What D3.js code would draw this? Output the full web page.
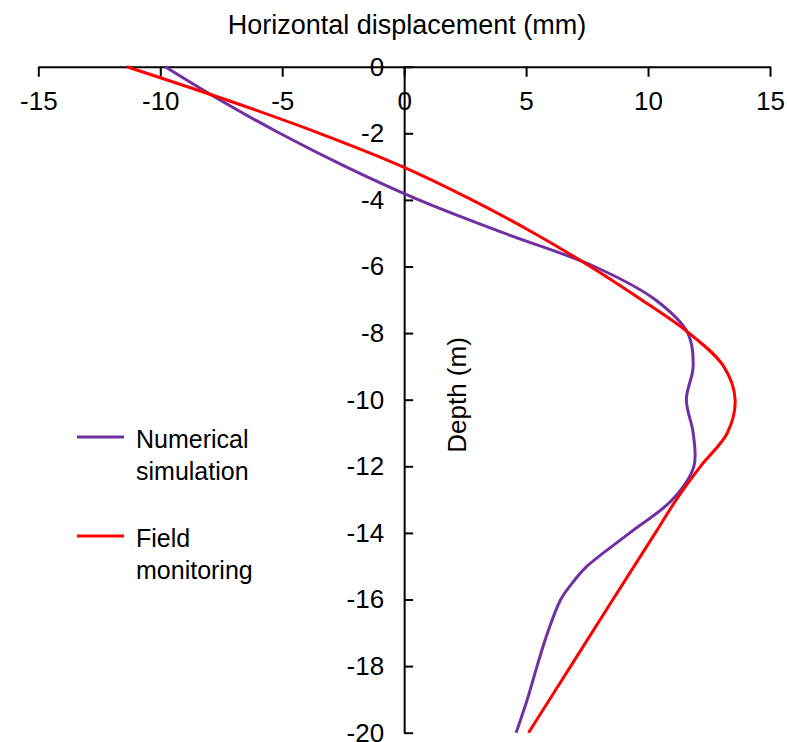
<!DOCTYPE html>
<html>
<head>
<meta charset="utf-8">
<script src="https://cdn.jsdelivr.net/npm/d3@7/dist/d3.min.js"></script>
<style>
  html, body { margin: 0; padding: 0; background: #fff; }
  svg { display: block; }
  text { font-family: Arial, "Liberation Sans", sans-serif; fill: #000; }
</style>
</head>
<body>
<script>
// Horizontal displacement profile of the retaining wall vs. depth
const xTicks = [-15, -10, -5, 0, 5, 10, 15];
const yTicks = [0, -2, -4, -6, -8, -10, -12, -14, -16, -18, -20];

// Numerical simulation: depth (m) and displacement (mm)
const simDepth = [0, -1, -2, -3, -4, -5, -6, -7, -8, -9, -10, -11, -12, -13, -14, -15, -15.5, -16, -17, -18, -19, -20];
const simDisp  = [-9.8, -7.55, -5.1, -2.4, 0.6, 4.1, 7.8, 10.3, 11.63, 11.85, 11.57, 11.85, 11.88, 11.0, 9.25, 7.5, 6.9, 6.42, 5.88, 5.45, 5.05, 4.59];

// Field monitoring: depth (m) and displacement (mm)
const fieldDepth = [0, -1, -2, -3, -4, -5, -6, -7, -8, -9, -10, -11, -12, -13, -14, -16, -18, -20];
const fieldDisp  = [-11.37, -7.27, -3.47, -0.07, 2.78, 5.33, 7.63, 9.73, 11.68, 13.1, 13.57, 13.25, 12.15, 11.16, 10.3, 8.56, 6.83, 5.1];

const seriesColors = ["#7030A0", "#FF0000"];

const W = 787, H = 742;
const svg = d3.select("body").append("svg").attr("width", W).attr("height", H);

const x = d3.scaleLinear().domain([-15, 15]).range([38.3, 770]);
const y = d3.scaleLinear().domain([0, -20]).range([66.7, 732.7]);

// Top (depth = 0) horizontal axis
const xAxis = d3.axisBottom(x).tickValues(xTicks).tickFormat(d => String(d))
  .tickSizeInner(10).tickSizeOuter(0).tickPadding(14.8);
const gx = svg.append("g").attr("transform", `translate(0,${y(0)})`).call(xAxis);

// Vertical axis through zero displacement
const yAxis = d3.axisLeft(y).tickValues(yTicks).tickFormat(d => String(d))
  .tickSizeInner(-9).tickSizeOuter(0).tickPadding(20);
const gy = svg.append("g").attr("transform", `translate(${x(0)},0)`).call(yAxis);

[gx, gy].forEach(g => {
  g.selectAll("path.domain").attr("stroke", "#000").attr("stroke-width", 2);
  g.selectAll(".tick line").attr("stroke", "#000").attr("stroke-width", 2);
  g.selectAll(".tick text").attr("font-size", 26).attr("font-family", "Arial, 'Liberation Sans', sans-serif").attr("fill", "#000");
});

// Axis titles
svg.append("text").attr("x", 407).attr("y", 33.5).attr("text-anchor", "middle")
  .attr("font-size", 27).text("Horizontal displacement (mm)");
svg.append("text").attr("transform", "translate(466,395) rotate(-90)")
  .attr("text-anchor", "middle").attr("font-size", 26).text("Depth (m)");

// Smoothed profile curves
const line = d3.line()
  .x(d => x(d[0]))
  .y(d => y(d[1]))
  .curve(d3.curveCatmullRom.alpha(0.5));

const simPts = simDepth.map((d, i) => [simDisp[i], d]);
const fieldPts = fieldDepth.map((d, i) => [fieldDisp[i], d]);

svg.append("path").datum(simPts).attr("d", line)
  .attr("fill", "none").attr("stroke", seriesColors[0]).attr("stroke-width", 3);
svg.append("path").datum(fieldPts).attr("d", line)
  .attr("fill", "none").attr("stroke", seriesColors[1]).attr("stroke-width", 3);

// Legend
const legend = [
  { lines: ["Numerical", "simulation"], color: seriesColors[0], ly: 437, ty: 448 },
  { lines: ["Field", "monitoring"], color: seriesColors[1], ly: 536, ty: 547 }
];
legend.forEach(item => {
  svg.append("line").attr("x1", 77).attr("x2", 124).attr("y1", item.ly).attr("y2", item.ly)
    .attr("stroke", item.color).attr("stroke-width", 3);
  item.lines.forEach((t, i) => {
    svg.append("text").attr("x", 136).attr("y", item.ty + i * 31.5)
      .attr("font-size", 25).text(t);
  });
});
</script>
</body>
</html>
